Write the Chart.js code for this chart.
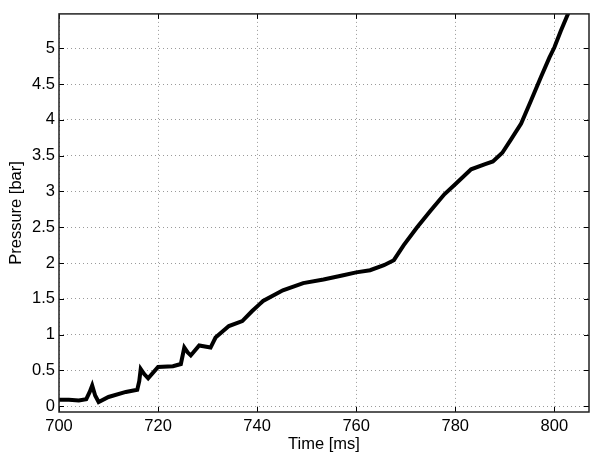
<!DOCTYPE html>
<html>
<head>
<meta charset="utf-8">
<script src="https://cdn.jsdelivr.net/npm/chart.js@4"></script>
<style>
  html, body { margin: 0; padding: 0; background: #fff; }
  #wrap { width: 590px; height: 457px; }
</style>
</head>
<body>
<div id="wrap"><canvas id="chart" width="590" height="457"></canvas></div>
<script>
// time [ms] and pressure [bar]
const timeMs = [700, 702, 704, 705.5, 706.2, 706.7, 707.3, 708, 710, 713.5, 715.8, 716.2, 716.5, 717.2, 718,
  720, 723, 724.6, 725.3, 726, 726.6, 728.3, 730.6, 731.6, 734.3, 737, 739, 740.4, 741.2, 745.2, 749.3,
  753.4, 757.4, 760, 762.8, 765.6, 767.6, 769.6, 772.3, 775, 777.8, 780, 783.2, 785.9, 787.6, 789.5,
  791.2, 793.3, 795.3, 797.3, 799, 800, 801.3, 803];
const pressureBar = [0.09, 0.09, 0.08, 0.1, 0.2, 0.29, 0.15, 0.06, 0.13, 0.2, 0.23, 0.35, 0.52, 0.45, 0.39,
  0.55, 0.56, 0.59, 0.82, 0.75, 0.71, 0.85, 0.82, 0.96, 1.12, 1.19, 1.33, 1.42, 1.47, 1.62, 1.72,
  1.77, 1.83, 1.87, 1.9, 1.97, 2.04, 2.25, 2.5, 2.73, 2.96, 3.1, 3.31, 3.38, 3.42, 3.54,
  3.72, 3.95, 4.27, 4.6, 4.87, 5.01, 5.24, 5.52];

const xTicks = [700, 720, 740, 760, 780, 800];
const yTicks = [0, 0.5, 1, 1.5, 2, 2.5, 3, 3.5, 4, 4.5, 5];

const fontFam = '"Liberation Sans", Arial, Helvetica, sans-serif';
const fontSize = 16.5;

// box around the axes with inward ticks (matlab look)
const axesBox = {
  id: 'axesBox',
  afterDraw(chart) {
    const { ctx, chartArea: a, scales } = chart;
    ctx.save();
    ctx.strokeStyle = '#000';
    ctx.lineWidth = 1;
    ctx.beginPath();
    xTicks.forEach(v => {
      const x = Math.round(scales.x.getPixelForValue(v)) + 0.5;
      ctx.moveTo(x, a.bottom); ctx.lineTo(x, a.bottom - 5);
      ctx.moveTo(x, a.top); ctx.lineTo(x, a.top + 5);
    });
    yTicks.forEach(v => {
      const y = Math.round(scales.y.getPixelForValue(v)) + 0.5;
      ctx.moveTo(a.left, y); ctx.lineTo(a.left + 5, y);
      ctx.moveTo(a.right, y); ctx.lineTo(a.right - 5, y);
    });
    ctx.stroke();
    ctx.lineWidth = 1.5;
    ctx.strokeStyle = '#222';
    ctx.strokeRect(a.left, a.top, a.right - a.left, a.bottom - a.top);
    ctx.restore();
  }
};

new Chart(document.getElementById('chart'), {
  type: 'line',
  data: {
    datasets: [{
      data: timeMs.map((t, i) => ({ x: t, y: pressureBar[i] })),
      borderColor: '#000',
      borderWidth: 4,
      pointRadius: 0,
      tension: 0,
      fill: false
    }]
  },
  options: {
    responsive: false,
    animation: false,
    layout: { padding: { top: 8, right: 1, left: 0, bottom: 0 } },
    plugins: { legend: { display: false }, tooltip: { enabled: false } },
    scales: {
      x: {
        type: 'linear',
        min: 700,
        max: 807,
        afterBuildTicks: s => { s.ticks = xTicks.map(v => ({ value: v })); },
        afterFit: s => { s.height = 45; },
        grid: { color: '#9a9a9a', lineWidth: 1, drawTicks: false },
        border: { display: false, dash: [1, 3] },
        ticks: { color: '#000', padding: 5, font: { family: fontFam, size: fontSize }, maxRotation: 0 },
        title: {
          display: true, text: 'Time [ms]', color: '#000',
          font: { family: fontFam, size: fontSize }, padding: { top: 0, bottom: 3 }
        }
      },
      y: {
        min: -0.08,
        max: 5.48,
        afterBuildTicks: s => { s.ticks = yTicks.map(v => ({ value: v })); },
        afterFit: s => { s.width = 59; },
        grid: { color: '#9a9a9a', lineWidth: 1, drawTicks: false },
        border: { display: false, dash: [1, 3] },
        ticks: {
          color: '#000', padding: 4, font: { family: fontFam, size: fontSize },
          callback: v => String(v)
        },
        title: {
          display: true, text: 'Pressure [bar]', color: '#000',
          font: { family: fontFam, size: fontSize }, padding: { top: 7, bottom: 0 }
        }
      }
    }
  },
  plugins: [axesBox]
});
</script>
</body>
</html>
